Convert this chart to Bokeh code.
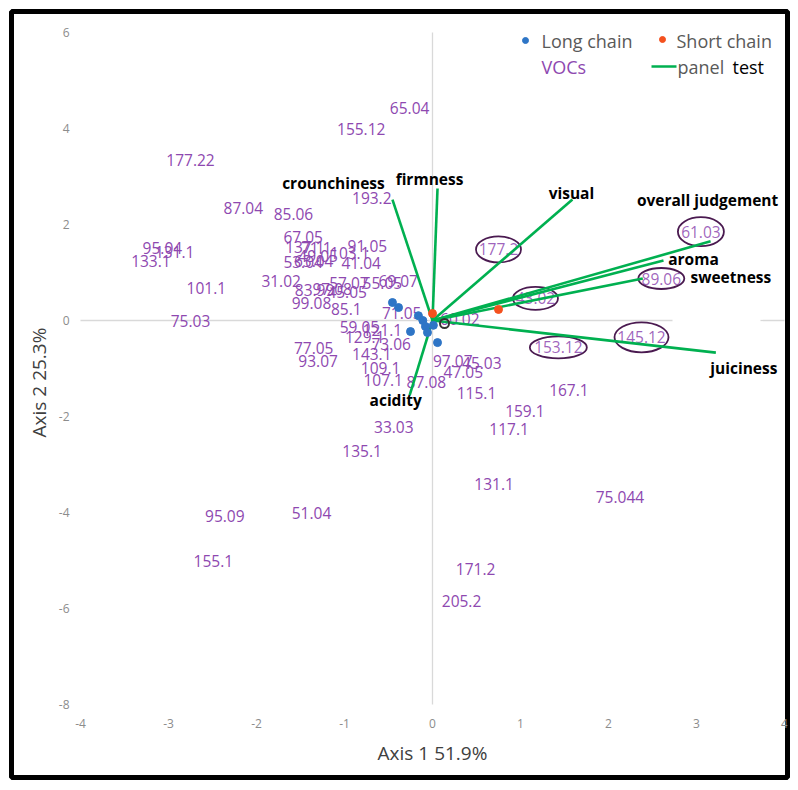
import math
from bokeh.plotting import figure
from bokeh.models import Range1d
from bokeh.embed import file_html
from bokeh.resources import INLINE
from bokeh.core.properties import value

# ---------------- data ----------------
voc_names = ["65.04", "155.12", "177.22", "193.2", "87.04", "85.06", "95.04", "131.1",
             "133.1", "101.1", "75.03", "67.05", "137.1", "71.1", "91.05", "103.1",
             "41.04", "49.05", "53.04", "63.04", "31.02", "57.07", "55.05", "69.07",
             "83.99", "97.08", "45.05", "99.08", "85.1", "71.05", "59.05", "121.1",
             "129.1", "73.06", "143.1", "109.1", "107.1", "87.08", "77.05", "93.07",
             "97.07", "45.03", "47.05", "115.1", "167.1", "159.1", "117.1", "33.03",
             "135.1", "131.1", "75.044", "95.09", "51.04", "155.1", "171.2", "205.2",
             "60.02"]
voc_x = [-0.26, -0.81, -2.75, -0.69, -2.15, -1.58, -3.07, -2.93,
         -3.20, -2.57, -2.75, -1.47, -1.45, -1.32, -0.74, -0.94,
         -0.81, -1.30, -1.47, -1.35, -1.72, -0.95, -0.57, -0.39,
         -1.34, -1.14, -0.97, -1.375, -0.98, -0.35, -0.83, -0.57,
         -0.77, -0.47, -0.69, -0.59, -0.56, -0.07, -1.35, -1.30,
         0.23, 0.56, 0.35, 0.50, 1.55, 1.05, 0.87, -0.44,
         -0.80, 0.70, 2.13, -2.36, -1.375, -2.49, 0.49, 0.33,
         0.31]
voc_y = [4.42, 4.00, 3.35, 2.56, 2.35, 2.21, 1.52, 1.42,
         1.25, 0.67, 0.00, 1.75, 1.54, 1.52, 1.56, 1.40,
         1.19, 1.35, 1.21, 1.23, 0.83, 0.79, 0.79, 0.83,
         0.63, 0.65, 0.60, 0.375, 0.23, 0.15, -0.125, -0.19,
         -0.35, -0.48, -0.69, -0.98, -1.23, -1.29, -0.58, -0.85,
         -0.85, -0.875, -1.08, -1.52, -1.44, -1.875, -2.27, -2.21,
         -2.71, -3.40, -3.67, -4.08, -4.02, -5.02, -5.17, -5.85,
         0.04]

circled_names = ["177.2", "43.02", "61.03", "89.06", "153.12", "145.12"]
circled_x = [0.75, 1.17, 3.05, 2.60, 1.43, 2.375]
circled_y = [1.48, 0.46, 1.85, 0.875, -0.56, -0.35]

long_x = [-0.455, -0.386, -0.16, -0.11, -0.08, -0.057, -0.25, 0.01, 0.057]
long_y = [0.375, 0.27, 0.10, 0.0, -0.125, -0.25, -0.23, -0.10, -0.46]

short_x = [0.0, 0.75]
short_y = [0.146, 0.23]

attr_names = ["crounchiness", "firmness", "visual", "overall judgement",
              "aroma", "sweetness", "juiciness", "acidity"]
attr_x = [-0.455, 0.057, 1.59, 3.16, 2.625, 2.39, 3.22, -0.26]
attr_y = [2.52, 2.75, 2.52, 1.65, 1.25, 0.875, -0.67, -1.56]

x_ticks = [-4, -3, -2, -1, 0, 1, 2, 3, 4]
y_ticks = [-8, -6, -4, -2, 0, 2, 4, 6]

# ---------------- layout (pixel helpers) ----------------
UX, UY = 88.0, 48.0            # px per data unit
OX, OY = 432.0, 320.0          # canvas px of the data origin
FX0, FX1, FY0, FY1 = 11.0, 787.0, 11.0, 777.0   # frame on canvas


def dx(px):
    return (px - OX) / UX


def dy(py):
    return (OY - py) / UY


FONT = value("Open Sans")
PURPLE = "#8E48B0"
GREEN = "#00B050"
BLUE = "#2E75C6"
RED = "#F4511E"
GRAY_TXT = "#595959"

p = figure(width=790, height=782, output_backend="svg", toolbar_location=None,
           x_range=Range1d(dx(FX0), dx(FX1)), y_range=Range1d(dy(FY1), dy(FY0)),
           min_border_left=11, min_border_right=3, min_border_top=11,
           min_border_bottom=5, x_axis_type=None, y_axis_type=None)
p.grid.visible = False
p.outline_line_color = "black"
p.outline_line_width = 5
p.background_fill_color = "white"
p.border_fill_color = "white"

# axis lines
p.segment(x0=[0], y0=[y_ticks[0]], x1=[0], y1=[y_ticks[-1]],
          line_color="#D9D9D9", line_width=1.3)
gap0, gap1 = dx(672), dx(760)
p.segment(x0=[x_ticks[0], gap1], y0=[0, 0], x1=[gap0, x_ticks[-1]], y1=[0, 0],
          line_color="#D9D9D9", line_width=1.3)

# tick labels
p.text(x=x_ticks, y=[dy(723)] * len(x_ticks), text=[str(t) for t in x_ticks],
       text_font=FONT, text_font_size=value("12px"), text_color="#8C8C8C",
       text_align="center", text_baseline="middle")
p.text(x=[dx(69)] * len(y_ticks), y=y_ticks, text=[str(t) for t in y_ticks],
       text_font=FONT, text_font_size=value("12px"), text_color="#8C8C8C",
       text_align="right", text_baseline="middle")

# axis titles
p.text(x=[0], y=[dy(752)], text=["Axis 1 51.9%"], text_font=FONT,
       text_font_size=value("19px"), text_color="#404040",
       text_align="center", text_baseline="middle")
p.text(x=[dx(38)], y=[dy(382)], text=["Axis 2 25.3%"], text_font=FONT,
       text_font_size=value("19px"), text_color="#404040", angle=math.pi / 2,
       text_align="center", text_baseline="middle")

# VOC labels
p.text(x=voc_x, y=voc_y, text=voc_names, text_font=FONT,
       text_font_size=value("15.5px"), text_color=PURPLE,
       text_align="center", text_baseline="middle")
p.text(x=circled_x, y=circled_y, text=circled_names, text_font=FONT,
       text_font_size=value("15.5px"), text_color=PURPLE, text_alpha=0.85,
       text_align="center", text_baseline="middle")
ell_w_px = [45, 45, 46, 46, 57, 54]
ell_h_px = [26, 23, 29, 21, 22, 30]
p.ellipse(x=circled_x, y=circled_y, width=[w / UX for w in ell_w_px],
          height=[h / UY for h in ell_h_px], fill_alpha=0,
          line_color="#4A1A50", line_width=1.8)

# panel test loadings (drawn over the labels, as in the original)
n = len(attr_names)
p.segment(x0=[0] * n, y0=[0] * n, x1=attr_x, y1=attr_y,
          line_color=GREEN, line_width=2.6)

# label offsets (px) for attribute names relative to arrow tips
attr_off = [(-59, -17), (-8, -10), (-1, -7), (-3, -41), (30, -2), (88, -2), (28, 15), (-14, 5)]
lab_x = [dx(OX + ax * UX + o[0]) for ax, o in zip(attr_x, attr_off)]
lab_y = [dy(OY - ay * UY + o[1]) for ay, o in zip(attr_y, attr_off)]
p.text(x=lab_x, y=lab_y, text=attr_names, text_font=FONT, text_font_style="bold",
       text_font_size=value("15.5px"), text_color="black",
       text_align="center", text_baseline="middle")

# points
p.scatter(long_x, long_y, size=8, color=BLUE)
p.scatter(short_x, short_y, size=8, color=RED)
p.scatter([dx(444)], [dy(323)], size=9, fill_alpha=0, line_color="#333333", line_width=2)

# legend (manual)
p.scatter([dx(525)], [dy(40)], size=6, color=BLUE)
p.text(x=[dx(541)], y=[dy(40)], text=["Long chain"], text_font=FONT,
       text_font_size=value("18px"), text_color=GRAY_TXT,
       text_align="left", text_baseline="middle")
p.scatter([dx(662)], [dy(39)], size=6, color=RED)
p.text(x=[dx(676)], y=[dy(40)], text=["Short chain"], text_font=FONT,
       text_font_size=value("18px"), text_color=GRAY_TXT,
       text_align="left", text_baseline="middle")
p.text(x=[dx(541)], y=[dy(66)], text=["VOCs"], text_font=FONT,
       text_font_size=value("18px"), text_color=PURPLE,
       text_align="left", text_baseline="middle")
p.segment(x0=[dx(651)], y0=[dy(66)], x1=[dx(676)], y1=[dy(66)],
          line_color=GREEN, line_width=2.6)
p.text(x=[dx(677)], y=[dy(66)], text=["panel"], text_font=FONT,
       text_font_size=value("18px"), text_color=GRAY_TXT,
       text_align="left", text_baseline="middle")
p.text(x=[dx(732)], y=[dy(66)], text=["test"], text_font=FONT,
       text_font_size=value("18px"), text_color="black",
       text_align="left", text_baseline="middle")

open("out.html", "w").write(file_html(p, INLINE))
